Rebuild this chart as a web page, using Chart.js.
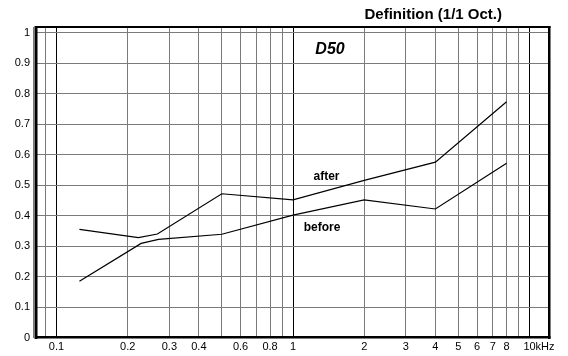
<!DOCTYPE html>
<html>
<head>
<meta charset="utf-8">
<script src="https://cdn.jsdelivr.net/npm/chart.js@4.4.0/dist/chart.umd.min.js"></script>
<style>
  html, body { margin: 0; padding: 0; background: #fff; }
  #wrap { width: 568px; height: 356px; position: relative; }
</style>
</head>
<body>
<div id="wrap"><canvas id="c"></canvas></div>
<script>
// D50 (definition) per octave band, in kHz
const freqBefore = [0.125, 0.228, 0.27, 0.5, 1, 2, 4, 8];
const before     = [0.185, 0.309, 0.322, 0.339, 0.402, 0.452, 0.422, 0.572];
const freqAfter  = [0.125, 0.222, 0.267, 0.5, 1, 2, 4, 8];
const after      = [0.355, 0.328, 0.340, 0.472, 0.452, 0.516, 0.576, 0.774];

const yTicks = [0, 0.1, 0.2, 0.3, 0.4, 0.5, 0.6, 0.7, 0.8, 0.9, 1];
const yTickLabels = ['0', '0.1', '0.2', '0.3', '0.4', '0.5', '0.6', '0.7', '0.8', '0.9', '1'];
const xGrid = [0.08, 0.09, 0.1, 0.2, 0.3, 0.4, 0.5, 0.6, 0.7, 0.8, 0.9,
               1, 2, 3, 4, 5, 6, 7, 8, 9, 10];
const xLabelValues = [0.1, 0.2, 0.3, 0.4, 0.6, 0.8, 1, 2, 3, 4, 5, 6, 7, 8, 10];
const xLabelTexts  = ['0.1', '0.2', '0.3', '0.4', '0.6', '0.8', '1', '2', '3', '4', '5', '6', '7', '8', '10'];
const xUnit = 'kHz';
const decades = [0.1, 1, 10];

const chartTitle = 'Definition (1/1 Oct.)';
const paramName = 'D50';
const seriesNames = ['before', 'after'];

const FONT = "'Liberation Sans', Arial, sans-serif";
const GRID = '#7a7a7a';

const toPoints = (xs, ys) => xs.map((x, i) => ({ x, y: ys[i] }));

const decorations = {
  id: 'decorations',
  afterDraw(chart) {
    const { ctx, chartArea: a, scales: { x, y } } = chart;
    ctx.save();
    // heavy frame around the plot
    ctx.fillStyle = '#000';
    ctx.fillRect(a.left - 1.5, a.top - 1, 3, a.bottom - a.top + 2.5);
    ctx.fillRect(a.left - 1, a.top - 1, a.right - a.left + 2.5, 2);
    ctx.fillRect(a.left - 1, a.bottom - 1.5, a.right - a.left + 2.5, 2.5);
    ctx.fillRect(a.right - 1, a.top - 1, 2.5, a.bottom - a.top + 2.5);

    // frequency labels
    ctx.fillStyle = '#000';
    ctx.font = '11px ' + FONT;
    ctx.textBaseline = 'middle';
    const ly = a.bottom + 9.5;
    xLabelValues.forEach((v, i) => {
      const px = x.getPixelForValue(v);
      const t = xLabelTexts[i];
      if (i === xLabelValues.length - 1) {
        const w = ctx.measureText(t).width;
        ctx.textAlign = 'left';
        ctx.fillText(t + xUnit, px - w / 2, ly);
      } else {
        ctx.textAlign = 'center';
        ctx.fillText(t, px, ly);
      }
    });

    // title
    ctx.font = 'bold 15px ' + FONT;
    ctx.textAlign = 'right';
    ctx.fillText(chartTitle, 502, 15);

    // parameter name and curve labels
    ctx.textAlign = 'center';
    ctx.font = 'italic bold 16px ' + FONT;
    ctx.fillText(paramName, x.getPixelForValue(1.434), y.getPixelForValue(0.944));
    ctx.font = 'bold 12px ' + FONT;
    ctx.fillText(seriesNames[1], x.getPixelForValue(1.386), y.getPixelForValue(0.528));
    ctx.fillText(seriesNames[0], x.getPixelForValue(1.326), y.getPixelForValue(0.362));
    ctx.restore();
  }
};

new Chart(document.getElementById('c'), {
  type: 'line',
  data: {
    datasets: [
      { label: seriesNames[0], data: toPoints(freqBefore, before),
        borderColor: '#000', borderWidth: 1.2, pointRadius: 0, tension: 0, fill: false },
      { label: seriesNames[1], data: toPoints(freqAfter, after),
        borderColor: '#000', borderWidth: 1.2, pointRadius: 0, tension: 0, fill: false }
    ]
  },
  options: {
    responsive: true,
    maintainAspectRatio: false,
    animation: false,
    devicePixelRatio: 1,
    layout: { padding: { top: 27, right: 19, left: 0, bottom: 0 } },
    plugins: { legend: { display: false }, tooltip: { enabled: false }, title: { display: false } },
    scales: {
      x: {
        type: 'logarithmic',
        min: 0.0819,
        max: 12.09,
        afterBuildTicks: (s) => { s.ticks = xGrid.map(v => ({ value: v })); },
        afterFit: (s) => { s.height = 18.5; },
        ticks: { display: false },
        grid: {
          drawTicks: false,
          lineWidth: 1,
          color: (c) => decades.some(d => Math.abs(c.tick.value - d) < 1e-9) ? '#000' : GRID
        },
        border: { display: false }
      },
      y: {
        type: 'linear',
        min: 0,
        max: 1.0197,
        afterBuildTicks: (s) => { s.ticks = yTicks.map(v => ({ value: v })); },
        afterFit: (s) => { s.width = 36; },
        ticks: {
          padding: 6,
          color: '#000',
          font: { family: FONT, size: 11 },
          callback: (v, i) => yTickLabels[i]
        },
        grid: { drawTicks: false, lineWidth: 1, color: GRID },
        border: { display: false }
      }
    }
  },
  plugins: [decorations]
});
</script>
</body>
</html>
